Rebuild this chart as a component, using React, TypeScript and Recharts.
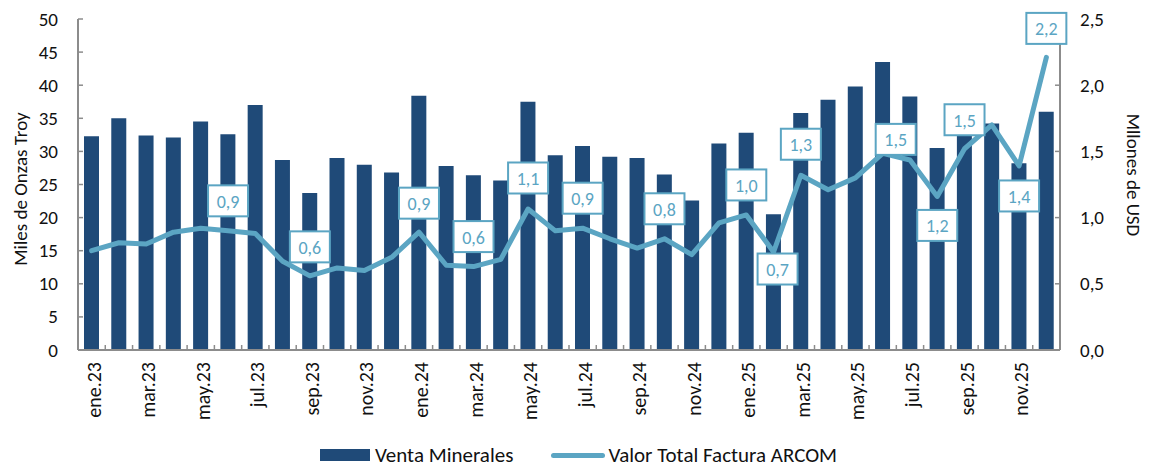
import { ComposedChart, Bar, Line, XAxis, YAxis, Legend, LabelList } from 'recharts';

const meses = [
  'ene.23', 'feb.23', 'mar.23', 'abr.23', 'may.23', 'jun.23', 'jul.23', 'ago.23', 'sep.23', 'oct.23', 'nov.23', 'dic.23',
  'ene.24', 'feb.24', 'mar.24', 'abr.24', 'may.24', 'jun.24', 'jul.24', 'ago.24', 'sep.24', 'oct.24', 'nov.24', 'dic.24',
  'ene.25', 'feb.25', 'mar.25', 'abr.25', 'may.25', 'jun.25', 'jul.25', 'ago.25', 'sep.25', 'oct.25', 'nov.25', 'dic.25',
];

// miles de onzas troy
const ventaMinerales = [
  32.3, 35.0, 32.4, 32.1, 34.5, 32.6, 37.0, 28.7, 23.7, 29.0, 28.0, 26.8,
  38.4, 27.8, 26.4, 25.6, 37.5, 29.4, 30.8, 29.2, 29.0, 26.5, 22.6, 31.2,
  32.8, 20.5, 35.8, 37.8, 39.8, 43.5, 38.3, 30.5, 33.0, 34.2, 28.2, 36.0,
];

// millones de USD
const valorFactura = [
  0.75, 0.81, 0.80, 0.89, 0.92, 0.90, 0.88, 0.67, 0.56, 0.62, 0.60, 0.70,
  0.89, 0.64, 0.63, 0.685, 1.065, 0.90, 0.92, 0.84, 0.77, 0.84, 0.72, 0.96,
  1.02, 0.74, 1.32, 1.21, 1.30, 1.485, 1.435, 1.16, 1.52, 1.70, 1.39, 2.21,
];

const ticksIzq = [0, 5, 10, 15, 20, 25, 30, 35, 40, 45, 50];
const ticksDer = [0, 0.5, 1, 1.5, 2, 2.5];

// which months carry a data label, and where the box sits relative to the point
const etiquetas: Record<string, [number, number]> = {
  'jun.23': [0, -30], 'sep.23': [0, -29], 'ene.24': [0, -29], 'mar.24': [0, -30],
  'may.24': [0, -31], 'jul.24': [0, -30], 'oct.24': [0, -30], 'ene.25': [0, -30],
  'feb.25': [4, 17], 'mar.25': [0, -31], 'jun.25': [13, -14], 'ago.25': [0, 29],
  'sep.25': [0, -29], 'nov.25': [0, 30], 'dic.25': [0, -29],
};

const data = meses.map((mes, i) => ({ mes, venta: ventaMinerales[i], valor: valorFactura[i] }));

const AZUL = '#1f4a78';
const CELESTE = '#5ba5c3';
const GRIS = '#8c8c8c';
const FONT = 'Carlito, Calibri, Lato, sans-serif';
const BAND = 982 / 36;

const coma = (v: number, d: number) => v.toFixed(d).replace('.', ',');

function XTick({ x, y, payload, index }: any) {
  const bx = x - BAND / 2;
  return (
    <g>
      <line x1={bx} x2={bx} y1={y} y2={y - 5} stroke={GRIS} strokeWidth={1.5} />
      {index % 2 === 0 && (
        <text
          transform={`translate(${x + 2},${y + 12}) rotate(-90)`}
          textAnchor="end" dominantBaseline="central"
          fontSize={20} fontFamily={FONT} fill="#111"
        >
          {payload.value}
        </text>
      )}
    </g>
  );
}

function LeftTick({ x, y, payload }: any) {
  return (
    <g>
      <line x1={x + 20} x2={x + 25} y1={y} y2={y} stroke={GRIS} strokeWidth={1.5} />
      <text x={x} y={y} textAnchor="end" dominantBaseline="central" fontSize={19} fontFamily={FONT} fill="#111">
        {payload.value}
      </text>
    </g>
  );
}

function RightTick({ x, y, payload }: any) {
  return (
    <g>
      <line x1={x - 20} x2={x - 25} y1={y} y2={y} stroke={GRIS} strokeWidth={1.5} />
      <text x={x} y={y} textAnchor="start" dominantBaseline="central" fontSize={19} fontFamily={FONT} fill="#111">
        {coma(payload.value, 1)}
      </text>
    </g>
  );
}

function Caja(props: any) {
  const { x, y, value, index } = props;
  const pos = etiquetas[meses[index]];
  if (!pos) return null;
  const cx = x + pos[0];
  const cy = y + pos[1];
  return (
    <g>
      <rect x={cx - 20} y={cy - 15.5} width={40} height={31} fill="#fff" stroke={CELESTE} strokeWidth={2} />
      <text x={cx} y={cy + 1} textAnchor="middle" dominantBaseline="central" fontSize={18} fontFamily={FONT} fill={CELESTE}>
        {coma(value, 1)}
      </text>
    </g>
  );
}

function Leyenda() {
  return (
    <div style={{ display: 'flex', justifyContent: 'center', alignItems: 'center', paddingTop: 18, fontFamily: FONT, fontSize: 21, color: '#111', lineHeight: '20px' }}>
      <span style={{ display: 'inline-block', width: 50, height: 12, background: AZUL, marginRight: 5 }} />
      <span>Venta Minerales</span>
      <span style={{ display: 'inline-block', width: 54, height: 5, borderRadius: 3, background: CELESTE, marginLeft: 38, marginRight: 3 }} />
      <span>Valor Total Factura ARCOM</span>
    </div>
  );
}

export default function App() {
  return (
    <ComposedChart width={1141} height={459} data={data} margin={{ top: 11, right: 0, bottom: 0, left: 0 }}>
      <XAxis
        dataKey="mes" interval={0} tickSize={0} tickMargin={0} height={77}
        tick={<XTick />} tickLine={false} axisLine={{ stroke: GRIS, strokeWidth: 2 }}
      />
      <YAxis
        yAxisId="izq" domain={[0, 50]} ticks={ticksIzq} width={70} tickSize={0} tickMargin={20}
        tick={<LeftTick />} tickLine={false} axisLine={{ stroke: GRIS, strokeWidth: 2 }}
        label={{
          content: () => (
            <text transform="translate(12,181) rotate(-90)" textAnchor="middle" dominantBaseline="central" fontSize={19} fontFamily={FONT} fill="#111">
              Miles de Onzas Troy
            </text>
          ),
        }}
      />
      <YAxis
        yAxisId="der" orientation="right" domain={[0, 2.5]} ticks={ticksDer} width={89} tickSize={0} tickMargin={20}
        tick={<RightTick />} tickLine={false} axisLine={{ stroke: GRIS, strokeWidth: 2 }}
        label={{
          content: () => (
            <text transform="translate(1125,167) rotate(90)" textAnchor="middle" dominantBaseline="central" fontSize={19} fontFamily={FONT} fill="#111">
              Mllones de USD
            </text>
          ),
        }}
      />
      <Bar yAxisId="izq" dataKey="venta" name="Venta Minerales" fill={AZUL} barSize={15} isAnimationActive={false} />
      <Line
        yAxisId="der" dataKey="valor" name="Valor Total Factura ARCOM" type="linear"
        stroke={CELESTE} strokeWidth={5} strokeLinecap="round" strokeLinejoin="round"
        dot={false} activeDot={false} isAnimationActive={false}
      >
        <LabelList dataKey="valor" content={<Caja />} />
      </Line>
      <Legend verticalAlign="bottom" height={40} content={() => <Leyenda />} />
    </ComposedChart>
  );
}
